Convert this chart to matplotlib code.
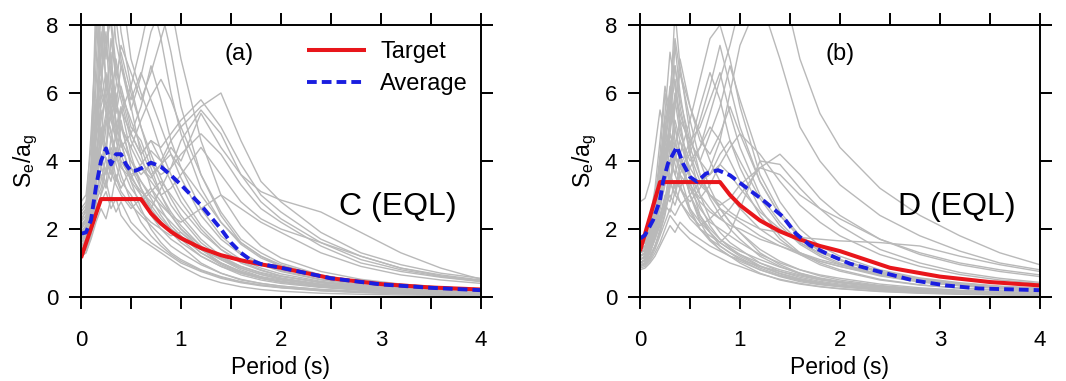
import matplotlib
matplotlib.use('Agg')
import matplotlib.pyplot as plt
from matplotlib.ticker import MultipleLocator

plt.rcParams['font.family'] = ['Liberation Sans', 'DejaVu Sans']

# period grid shared by the individual record spectra (s)
periods = [0, .05, .1, .15, .2, .25, .3, .35, .4, .5, .6, .7, .8, .9, 1.0,
           1.2, 1.4, 1.6, 1.8, 2.0, 2.4, 2.8, 3.2, 3.6, 4.0]

# soil C, individual records (Se/ag)
records_c = [
    [1.8, 2.0, 3.5, 9.0, 6.5, 7.8, 5.2, 6.0, 4.5, 3.6, 3.0, 2.4, 2.0, 1.7, 1.5, 1.0, 0.7, 0.5, 0.4, 0.32, 0.22, 0.16, 0.12, 0.09, 0.07],
    [2.2, 2.6, 4.8, 7.5, 10, 6.0, 7.2, 5.0, 5.6, 4.2, 3.2, 2.6, 2.2, 1.9, 1.6, 1.2, 0.9, 0.7, 0.55, 0.45, 0.3, 0.22, 0.17, 0.13, 0.1],
    [1.5, 1.7, 2.4, 3.8, 5.5, 4.2, 6.8, 5.4, 6.2, 5.0, 4.6, 3.8, 3.0, 2.5, 2.1, 1.5, 1.1, 0.8, 0.6, 0.5, 0.35, 0.25, 0.2, 0.15, 0.12],
    [1.3, 1.4, 1.9, 2.6, 3.0, 3.4, 2.8, 3.6, 3.2, 3.8, 3.4, 2.9, 2.4, 2.0, 1.7, 1.2, 0.9, 0.65, 0.5, 0.4, 0.28, 0.2, 0.15, 0.11, 0.09],
    [2.6, 2.8, 3.9, 6.2, 8.5, 7.0, 9.0, 7.5, 6.8, 5.5, 6.5, 7.8, 8.5, 7.2, 5.6, 3.6, 2.4, 1.6, 1.2, 0.9, 0.6, 0.42, 0.32, 0.25, 0.2],
    [1.9, 2.1, 2.7, 3.5, 4.4, 5.2, 4.6, 5.8, 5.0, 4.4, 5.2, 5.9, 6.4, 5.8, 5.0, 3.6, 2.5, 1.7, 1.3, 1.0, 0.65, 0.45, 0.34, 0.26, 0.2],
    [1.6, 1.8, 2.3, 3.0, 3.8, 4.5, 4.0, 4.8, 5.5, 4.8, 4.2, 4.6, 4.4, 4.8, 5.2, 5.8, 5.0, 3.9, 3.0, 2.5, 1.7, 1.2, 0.85, 0.65, 0.5],
    [1.4, 1.6, 2.0, 2.8, 3.2, 3.8, 3.4, 4.2, 3.8, 3.5, 3.9, 4.3, 4.0, 4.6, 5.0, 5.6, 6.0, 4.6, 3.4, 2.8, 1.9, 1.3, 0.95, 0.7, 0.55],
    [2.0, 2.2, 3.0, 4.2, 5.0, 4.4, 5.4, 4.6, 4.0, 3.6, 3.8, 3.5, 3.9, 4.4, 4.0, 5.4, 4.4, 3.6, 3.1, 2.85, 2.5, 1.9, 1.3, 0.85, 0.52],
    [1.7, 1.9, 2.6, 5.5, 7.0, 8.8, 6.2, 5.0, 4.6, 3.4, 2.6, 2.0, 1.6, 1.3, 1.1, 0.8, 0.6, 0.45, 0.35, 0.28, 0.2, 0.14, 0.1, 0.08, 0.06],
    [1.2, 1.3, 1.7, 2.2, 2.6, 2.3, 2.9, 2.5, 2.8, 2.2, 1.9, 1.6, 1.4, 1.2, 1.0, 0.75, 0.55, 0.42, 0.33, 0.27, 0.18, 0.13, 0.1, 0.08, 0.06],
    [2.4, 2.6, 3.4, 4.8, 6.0, 9.5, 8.0, 6.5, 7.2, 6.0, 5.0, 4.2, 3.5, 2.9, 2.4, 1.7, 1.2, 0.9, 0.7, 0.56, 0.38, 0.27, 0.2, 0.16, 0.12],
    [1.5, 1.6, 2.2, 3.6, 4.8, 4.0, 3.6, 4.4, 3.9, 3.2, 2.8, 3.1, 3.4, 3.0, 2.6, 1.9, 1.4, 1.05, 0.8, 0.62, 0.42, 0.3, 0.22, 0.17, 0.13],
    [1.8, 2.0, 2.8, 4.0, 5.8, 6.6, 5.4, 6.2, 7.4, 6.6, 5.8, 6.6, 7.6, 8.6, 7.0, 4.6, 3.0, 2.1, 1.5, 1.15, 0.75, 0.52, 0.38, 0.29, 0.23],
    [1.3, 1.5, 2.1, 2.9, 3.4, 4.1, 3.7, 3.3, 3.0, 2.6, 2.9, 3.2, 2.8, 2.4, 2.2, 2.6, 3.0, 2.6, 2.2, 1.9, 1.3, 0.9, 0.65, 0.5, 0.4],
    [2.1, 2.3, 3.2, 5.8, 4.6, 6.4, 5.6, 4.8, 5.2, 3.8, 3.2, 2.7, 2.3, 2.0, 1.8, 1.3, 1.0, 0.75, 0.58, 0.46, 0.32, 0.23, 0.17, 0.13, 0.1],
    [1.6, 1.7, 2.4, 3.4, 4.2, 3.6, 4.4, 4.0, 4.6, 4.0, 3.6, 3.9, 3.6, 3.8, 4.2, 4.8, 4.2, 3.3, 2.6, 2.2, 1.5, 1.0, 0.75, 0.58, 0.45],
    [2.8, 3.0, 4.4, 8.0, 6.8, 5.6, 4.8, 4.2, 3.6, 2.8, 2.2, 1.8, 1.5, 1.25, 1.05, 0.78, 0.58, 0.44, 0.35, 0.28, 0.19, 0.14, 0.1, 0.08, 0.06],
    [1.4, 1.5, 2.0, 2.7, 3.9, 3.3, 4.7, 3.9, 3.4, 3.0, 2.5, 2.2, 2.0, 1.8, 1.9, 1.4, 1.1, 0.85, 0.66, 0.54, 0.37, 0.27, 0.2, 0.16, 0.12],
    [1.9, 2.1, 2.9, 4.4, 3.7, 5.0, 6.0, 5.2, 4.4, 4.8, 5.6, 6.8, 5.8, 4.6, 3.8, 2.6, 1.8, 1.3, 1.0, 0.78, 0.52, 0.36, 0.27, 0.21, 0.16],
    [1.2, 1.3, 1.8, 2.4, 2.8, 3.1, 2.6, 2.9, 2.4, 2.0, 1.7, 1.5, 1.3, 1.1, 0.9, 0.6, 0.42, 0.3, 0.22, 0.17, 0.11, 0.08, 0.06, 0.05, 0.04],
    [2.3, 2.5, 3.6, 5.2, 8.6, 7.4, 8.2, 6.8, 6.0, 5.2, 4.4, 3.6, 3.0, 2.4, 2.0, 1.4, 1.0, 0.72, 0.55, 0.44, 0.3, 0.21, 0.16, 0.12, 0.09],
    [1.7, 1.8, 2.5, 3.2, 4.6, 5.4, 4.9, 4.2, 5.0, 4.4, 3.8, 3.4, 3.0, 3.2, 3.6, 4.4, 3.6, 2.8, 2.3, 2.0, 1.6, 1.2, 0.85, 0.62, 0.48],
    [1.5, 1.6, 2.3, 3.3, 3.0, 3.8, 4.3, 3.5, 3.1, 2.7, 2.4, 2.1, 1.8, 1.5, 1.3, 0.95, 0.7, 0.52, 0.4, 0.32, 0.22, 0.16, 0.12, 0.09, 0.07],
    [2.0, 2.2, 3.1, 4.6, 5.6, 6.2, 7.0, 5.8, 5.0, 4.0, 3.4, 3.0, 2.7, 2.4, 2.0, 1.5, 1.15, 0.9, 0.72, 0.6, 0.44, 0.33, 0.25, 0.2, 0.16],
    [1.6, 1.8, 2.6, 3.7, 4.9, 4.3, 5.6, 4.8, 4.2, 3.4, 3.0, 2.6, 3.2, 3.8, 4.6, 5.5, 4.8, 3.6, 2.8, 2.3, 1.6, 1.1, 0.8, 0.6, 0.46],
    [2.0, 2.3, 3.8, 6.8, 9.5, 8.4, 10, 8.2, 7.0, 5.6, 4.2, 3.2, 2.6, 2.1, 1.8, 1.3, 0.95, 0.7, 0.55, 0.44, 0.3, 0.22, 0.16, 0.12, 0.09],
    [1.7, 1.9, 2.8, 4.6, 7.2, 9.8, 8.6, 9.4, 7.8, 6.2, 5.0, 4.0, 3.3, 2.7, 2.3, 1.6, 1.15, 0.85, 0.66, 0.52, 0.35, 0.25, 0.19, 0.14, 0.11],
    [2.5, 2.7, 3.6, 5.4, 6.4, 7.4, 6.6, 8.4, 9.2, 7.0, 6.0, 5.2, 4.3, 3.6, 3.0, 2.1, 1.5, 1.1, 0.85, 0.68, 0.46, 0.33, 0.25, 0.19, 0.15],
    [1.4, 1.5, 2.2, 3.4, 4.4, 5.2, 6.4, 5.6, 6.8, 5.8, 6.6, 5.8, 5.0, 4.2, 3.5, 2.4, 1.7, 1.25, 0.95, 0.75, 0.5, 0.36, 0.27, 0.2, 0.16],
    [2.2, 2.4, 3.2, 5.0, 6.2, 5.4, 7.6, 6.4, 5.8, 4.6, 4.0, 3.6, 3.9, 4.2, 3.8, 3.0, 2.2, 1.6, 1.2, 0.95, 0.62, 0.44, 0.33, 0.25, 0.2],
    [1.9, 2.0, 2.9, 4.2, 5.2, 6.0, 5.2, 4.6, 5.4, 6.2, 7.4, 8.8, 7.6, 6.0, 4.8, 3.2, 2.2, 1.55, 1.15, 0.9, 0.6, 0.42, 0.31, 0.24, 0.19],
    [1.3, 1.4, 2.0, 3.0, 3.6, 3.2, 3.9, 3.4, 4.0, 3.5, 3.1, 2.8, 2.5, 2.2, 1.9, 1.4, 1.0, 0.75, 0.58, 0.46, 0.31, 0.22, 0.17, 0.13, 0.1],
    [2.1, 2.3, 3.4, 4.8, 7.8, 6.4, 5.6, 7.0, 6.0, 4.8, 4.2, 4.6, 4.0, 3.4, 2.8, 2.0, 1.4, 1.0, 0.78, 0.62, 0.42, 0.3, 0.22, 0.17, 0.13],
]

# soil D, individual records (Se/ag)
records_d = [
    [1.2, 1.3, 1.8, 2.6, 3.4, 4.8, 6.2, 5.0, 4.2, 3.0, 2.2, 1.7, 1.4, 1.2, 1.0, 0.7, 0.5, 0.38, 0.3, 0.24, 0.16, 0.11, 0.08, 0.06, 0.05],
    [1.0, 1.1, 1.4, 2.0, 2.8, 3.6, 5.4, 6.4, 5.2, 3.4, 2.4, 1.9, 1.5, 1.3, 1.1, 0.8, 0.6, 0.45, 0.36, 0.3, 0.2, 0.14, 0.1, 0.08, 0.06],
    [1.4, 1.5, 2.0, 2.8, 4.2, 6.0, 5.0, 7.4, 6.0, 4.2, 3.0, 2.3, 1.9, 1.6, 1.4, 1.0, 0.75, 0.58, 0.46, 0.38, 0.26, 0.18, 0.13, 0.1, 0.08],
    [0.9, 1.0, 1.2, 1.5, 1.9, 2.4, 3.2, 4.2, 3.6, 2.6, 2.0, 1.7, 1.5, 1.3, 1.15, 0.85, 0.64, 0.5, 0.4, 0.33, 0.23, 0.16, 0.12, 0.09, 0.07],
    [1.1, 1.2, 1.5, 1.9, 2.4, 2.8, 3.4, 3.0, 3.6, 4.4, 5.6, 6.6, 5.8, 4.6, 3.8, 2.6, 1.8, 1.3, 1.0, 0.8, 0.52, 0.36, 0.26, 0.2, 0.16],
    [1.3, 1.4, 1.7, 2.2, 2.6, 3.3, 4.0, 3.6, 4.2, 5.2, 6.4, 7.6, 8.0, 7.0, 5.6, 3.6, 2.5, 1.8, 1.4, 1.1, 0.72, 0.5, 0.37, 0.29, 0.23],
    [1.0, 1.05, 1.3, 1.7, 2.2, 2.7, 3.4, 3.0, 2.8, 2.3, 2.0, 1.8, 1.6, 1.9, 2.6, 4.0, 3.9, 3.2, 2.6, 2.1, 1.4, 1.0, 0.72, 0.55, 0.43],
    [1.2, 1.3, 1.6, 2.0, 2.4, 3.0, 2.8, 3.4, 3.2, 2.8, 3.2, 3.8, 4.6, 6.0, 7.4, 8.8, 7.0, 5.0, 4.0, 3.3, 2.4, 1.8, 1.35, 1.0, 0.8],
    [1.5, 1.6, 2.0, 2.7, 3.5, 4.2, 4.8, 4.4, 5.2, 4.6, 4.0, 4.8, 5.6, 6.8, 5.8, 4.0, 2.8, 2.0, 1.5, 1.2, 0.8, 0.56, 0.42, 0.32, 0.26],
    [0.8, 0.85, 1.0, 1.2, 1.5, 1.8, 2.1, 1.9, 2.2, 1.9, 1.7, 1.5, 1.35, 1.2, 1.1, 0.9, 0.75, 0.62, 0.5, 0.42, 0.3, 0.22, 0.16, 0.12, 0.1],
    [1.1, 1.2, 1.6, 2.3, 3.1, 4.0, 4.8, 6.0, 5.4, 4.4, 3.6, 3.0, 2.6, 2.2, 1.9, 1.3, 0.95, 0.7, 0.54, 0.43, 0.29, 0.2, 0.15, 0.11, 0.09],
    [2.8, 2.9, 3.4, 4.4, 5.5, 4.8, 4.2, 3.6, 3.2, 2.6, 2.2, 1.9, 1.6, 1.4, 1.2, 0.9, 0.68, 0.52, 0.41, 0.33, 0.22, 0.16, 0.12, 0.09, 0.07],
    [1.3, 1.4, 1.8, 2.5, 3.4, 4.4, 3.9, 5.6, 6.6, 5.6, 4.8, 4.0, 3.4, 3.0, 2.6, 2.0, 1.6, 1.3, 1.05, 0.9, 0.62, 0.44, 0.33, 0.26, 0.21],
    [0.9, 0.95, 1.1, 1.4, 1.8, 2.2, 2.6, 2.4, 2.7, 3.0, 3.4, 3.0, 2.7, 2.9, 3.3, 3.8, 4.2, 3.6, 2.9, 2.4, 1.7, 1.25, 0.95, 0.75, 0.6],
    [1.6, 1.7, 2.2, 3.0, 3.9, 5.0, 5.8, 4.6, 4.0, 3.2, 2.6, 2.2, 2.0, 1.8, 1.6, 1.25, 1.0, 0.8, 0.65, 0.55, 0.38, 0.27, 0.2, 0.16, 0.13],
    [1.0, 1.1, 1.4, 1.8, 2.3, 2.9, 3.6, 3.2, 3.8, 4.6, 4.0, 3.6, 3.9, 4.4, 4.8, 4.2, 3.4, 2.7, 2.2, 1.8, 1.25, 0.9, 0.66, 0.5, 0.4],
    [1.2, 1.3, 1.7, 2.4, 3.2, 4.6, 5.8, 6.8, 5.8, 4.6, 5.0, 5.8, 6.6, 5.4, 4.4, 3.0, 2.2, 1.6, 1.25, 1.0, 0.66, 0.46, 0.34, 0.26, 0.2],
    [0.85, 0.9, 1.05, 1.3, 1.6, 2.0, 2.4, 2.2, 2.0, 1.7, 1.5, 1.3, 1.15, 1.0, 0.9, 0.68, 0.52, 0.4, 0.31, 0.25, 0.17, 0.12, 0.09, 0.07, 0.05],
    [1.4, 1.5, 1.9, 2.6, 3.6, 5.0, 4.4, 4.0, 4.6, 3.8, 3.3, 3.0, 2.8, 2.5, 2.3, 2.0, 1.9, 1.75, 1.7, 1.65, 1.6, 1.5, 1.2, 0.95, 0.75],
    [1.1, 1.2, 1.5, 2.0, 2.7, 3.4, 4.4, 5.2, 4.6, 3.6, 3.0, 2.6, 2.3, 2.1, 2.0, 1.7, 1.5, 1.3, 1.1, 0.95, 0.68, 0.5, 0.38, 0.3, 0.24],
    [1.0, 1.1, 1.3, 1.7, 2.1, 2.6, 3.0, 2.7, 3.2, 3.8, 4.4, 5.4, 6.4, 7.4, 8.6, 10, 9.5, 7.0, 5.4, 4.4, 3.2, 2.4, 1.8, 1.3, 0.95],
    [1.3, 1.35, 1.7, 2.3, 2.9, 3.8, 3.4, 4.2, 3.8, 3.3, 2.9, 3.3, 3.9, 3.6, 3.2, 2.5, 2.0, 1.6, 1.3, 1.1, 0.76, 0.54, 0.4, 0.31, 0.25],
    [0.95, 1.0, 1.2, 1.5, 1.9, 2.5, 3.3, 4.6, 4.0, 3.0, 2.4, 2.0, 1.7, 1.5, 1.35, 1.1, 0.88, 0.7, 0.56, 0.46, 0.32, 0.23, 0.17, 0.13, 0.1],
    [1.2, 1.25, 1.6, 2.2, 3.0, 4.2, 5.0, 5.8, 4.8, 4.0, 4.4, 5.0, 4.6, 4.0, 3.4, 2.4, 1.7, 1.25, 0.95, 0.76, 0.5, 0.35, 0.26, 0.2, 0.16],
    [1.5, 1.6, 2.1, 2.9, 3.9, 5.2, 6.0, 7.6, 6.6, 5.2, 4.0, 3.2, 2.6, 2.2, 1.9, 1.4, 1.05, 0.8, 0.62, 0.5, 0.34, 0.24, 0.18, 0.14, 0.11],
    [1.1, 1.15, 1.4, 1.8, 2.2, 2.7, 2.5, 3.1, 3.6, 3.2, 2.8, 2.5, 2.3, 2.6, 3.0, 3.8, 3.6, 3.0, 2.6, 2.3, 1.7, 1.3, 1.0, 0.8, 0.65],
    [1.3, 1.4, 1.9, 2.8, 3.8, 5.4, 7.2, 6.2, 5.0, 3.6, 2.7, 2.1, 1.7, 1.45, 1.25, 0.92, 0.7, 0.54, 0.43, 0.35, 0.24, 0.17, 0.12, 0.09, 0.07],
    [1.0, 1.1, 1.5, 2.1, 3.0, 4.4, 5.6, 8.4, 6.8, 4.8, 3.6, 2.9, 2.4, 2.0, 1.7, 1.2, 0.9, 0.68, 0.53, 0.43, 0.29, 0.2, 0.15, 0.11, 0.09],
    [1.2, 1.3, 1.7, 2.5, 3.3, 4.2, 5.0, 5.6, 7.0, 5.6, 4.6, 4.2, 4.8, 5.6, 4.8, 3.4, 2.4, 1.75, 1.35, 1.08, 0.72, 0.5, 0.37, 0.28, 0.22],
    [0.9, 1.0, 1.3, 1.9, 2.6, 3.8, 4.6, 3.9, 3.3, 2.5, 2.0, 1.65, 1.4, 1.2, 1.05, 0.8, 0.62, 0.48, 0.38, 0.31, 0.21, 0.15, 0.11, 0.08, 0.06],
    [1.6, 1.7, 2.3, 3.2, 4.6, 6.2, 5.4, 6.8, 5.6, 4.2, 3.4, 3.6, 4.2, 4.6, 4.0, 2.9, 2.1, 1.55, 1.2, 0.96, 0.64, 0.45, 0.33, 0.25, 0.2],
    [1.1, 1.2, 1.6, 2.2, 2.9, 3.6, 4.8, 4.2, 3.8, 4.2, 5.2, 6.2, 7.4, 6.2, 5.0, 3.4, 2.4, 1.75, 1.35, 1.08, 0.72, 0.5, 0.37, 0.28, 0.22],
    [1.4, 1.45, 1.8, 2.4, 3.2, 4.0, 3.6, 3.2, 2.8, 2.4, 2.1, 2.3, 2.6, 2.4, 2.2, 1.8, 1.5, 1.25, 1.05, 0.9, 0.66, 0.5, 0.38, 0.3, 0.24],
    [0.9, 0.95, 1.15, 1.5, 2.0, 2.8, 3.9, 5.0, 4.2, 3.0, 2.3, 1.9, 1.6, 1.4, 1.25, 1.0, 0.8, 0.65, 0.52, 0.43, 0.3, 0.21, 0.16, 0.12, 0.09],
]

# EC8 target spectra
target_c_T = [0, 0.2, 0.6, 0.7, 0.8, 0.9, 1.0, 1.2, 1.4, 1.6, 1.8, 2.0, 2.5, 3.0, 3.5, 4.0]
target_c = [1.15, 2.88, 2.88, 2.46, 2.16, 1.92, 1.73, 1.44, 1.23, 1.08, 0.96, 0.86, 0.55, 0.38, 0.28, 0.22]
target_d_T = [0, 0.2, 0.8, 0.9, 1.0, 1.2, 1.4, 1.6, 1.8, 2.0, 2.5, 3.0, 3.5, 4.0]
target_d = [1.35, 3.38, 3.38, 3.0, 2.7, 2.25, 1.93, 1.69, 1.5, 1.35, 0.86, 0.6, 0.44, 0.34]

# mean of the records
avg_c_T = [0, 0.05, 0.1, 0.15, 0.2, 0.25, 0.3, 0.35, 0.4, 0.45, 0.5, 0.55, 0.6, 0.7, 0.8, 0.9,
           1.0, 1.1, 1.2, 1.3, 1.4, 1.5, 1.6, 1.7, 1.8, 2.0, 2.5, 3.0, 3.5, 4.0]
avg_c = [1.86, 1.9, 2.26, 3.24, 4.0, 4.37, 3.9, 4.2, 4.2, 3.9, 3.7, 3.72, 3.78, 3.95, 3.83, 3.58,
         3.3, 3.0, 2.7, 2.35, 2.0, 1.6, 1.3, 1.08, 0.97, 0.86, 0.55, 0.37, 0.27, 0.2]
avg_d_T = [0, 0.05, 0.13, 0.2, 0.23, 0.28, 0.37, 0.43, 0.5, 0.57, 0.66, 0.78, 0.9, 1.03,
           1.23, 1.43, 1.56, 1.7, 1.9, 2.1, 2.4, 2.73, 3.06, 3.39, 4.0]
avg_d = [1.72, 1.82, 2.26, 2.85, 3.39, 3.93, 4.42, 3.93, 3.53, 3.39, 3.63, 3.73, 3.58, 3.29,
         2.85, 2.36, 1.86, 1.52, 1.23, 0.98, 0.74, 0.49, 0.34, 0.25, 0.2]

panels = [
    (records_c, target_c_T, target_c, avg_c_T, avg_c, '(a)', 'C (EQL)', 1.58),
    (records_d, target_d_T, target_d, avg_d_T, avg_d, '(b)', 'D (EQL)', 2.0),
]
lefts = [0.076, 0.6004]

fig = plt.figure(figsize=(10.66, 3.81), dpi=100)

for i, (recs, tT, tv, aT, av, tag, soil, tagx) in enumerate(panels):
    ax = fig.add_axes([lefts[i], 0.2205, 0.375, 0.7139])
    for r in recs:
        ax.plot(periods, r, color='#b9b9b9', lw=1.0)
    ax.plot(tT, tv, color='#e8161b', lw=2.9, label='Target', solid_capstyle='butt')
    ax.plot(aT, av, color='#1a1ee0', lw=2.8, dashes=(2.5, 1.3), label='Average')

    ax.set_xlim(0, 4)
    ax.set_ylim(0, 8)
    ax.xaxis.set_major_locator(MultipleLocator(1))
    ax.xaxis.set_minor_locator(MultipleLocator(0.5))
    ax.yaxis.set_major_locator(MultipleLocator(2))
    ax.tick_params(which='both', direction='out', length=8.5, width=1.4,
                   top=True, right=True, labelsize=16)
    ax.tick_params(axis='x', which='major', pad=15)
    ax.tick_params(axis='y', which='major', pad=8)
    for s in ax.spines.values():
        s.set_linewidth(1.4)

    ax.set_xlabel('Period (s)', fontsize=16.5, labelpad=4)
    ax.set_ylabel('$\\mathregular{S_e/a_g}$', fontsize=16.5, labelpad=4)
    ax.text(tagx, 7.15, tag, fontsize=17, ha='center', va='center')
    ax.text(3.17, 2.65, soil, fontsize=23, ha='center', va='center')

    if i == 0:
        ax.legend(loc='upper right', bbox_to_anchor=(0.968, 0.94), frameon=False,
                  fontsize=17, handlelength=2.5, handletextpad=0.6,
                  borderaxespad=0, borderpad=0, labelspacing=0.42)

fig.savefig('out.png', dpi=100)
